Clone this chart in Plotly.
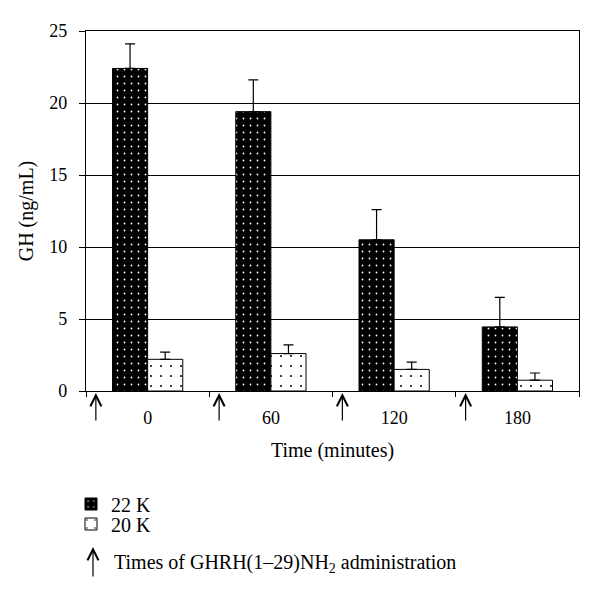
import plotly.graph_objects as go

# time points (minutes)
times = ['0', '60', '120', '180']

# GH (ng/mL), mean and top of error bar
gh_22k = [22.4, 19.4, 10.5, 4.45]
gh_22k_top = [24.1, 21.6, 12.6, 6.5]
gh_20k = [2.2, 2.6, 1.5, 0.75]
gh_20k_top = [2.7, 3.2, 2.0, 1.25]

# GHRH administration marked just after the start of each interval
admin_pos = [-0.42, 0.58, 1.58, 2.58]

serif = 'Liberation Serif'
PW, PH = 493, 360  # plot area size in px

fig = go.Figure()

fig.add_trace(go.Bar(
    x=times, y=gh_22k, name='22 K', legend='legend',
    marker=dict(color='black', line=dict(color='black', width=1),
                pattern=dict(shape='.', fgcolor='white', bgcolor='black',
                             size=7, solidity=0.05, fillmode='replace')),
    error_y=dict(type='data', symmetric=False,
                 array=[t - v for t, v in zip(gh_22k_top, gh_22k)],
                 arrayminus=[0] * 4, color='black', thickness=1.2, width=5),
))
fig.add_trace(go.Bar(
    x=times, y=gh_20k, name='20 K', legend='legend2',
    marker=dict(color='white', line=dict(color='black', width=1),
                pattern=dict(shape='.', fgcolor='black', bgcolor='white',
                             size=10, solidity=0.03, fillmode='replace')),
    error_y=dict(type='data', symmetric=False,
                 array=[t - v for t, v in zip(gh_20k_top, gh_20k)],
                 arrayminus=[0] * 4, color='black', thickness=1.2, width=5),
))

annotations = []
# arrows under the x axis
for p in admin_pos:
    annotations.append(dict(x=p, y=0, xref='x', yref='y', text='',
                            showarrow=True, arrowhead=5, arrowsize=1.8,
                            arrowwidth=1.2, arrowcolor='black',
                            ax=0, ay=31, standoff=2))
# legend row for the arrow
annotations.append(dict(x=7 / PW, y=-156 / PH, xref='paper', yref='paper',
                        text='', showarrow=True, arrowhead=5, arrowsize=1.8,
                        arrowwidth=1.2, arrowcolor='black', ax=0, ay=31))
annotations.append(dict(x=26 / PW, y=-172 / PH, xref='paper', yref='paper',
                        xanchor='left', yanchor='middle', showarrow=False,
                        text='Times of GHRH(1\u201329)NH<sub>2</sub> administration',
                        font=dict(family=serif, size=20, color='black')))

leg = dict(x=-15 / PW, xanchor='left', yanchor='middle',
           font=dict(family=serif, size=20, color='black'),
           itemclick=False, bgcolor='rgba(0,0,0,0)')

fig.update_layout(
    width=600, height=598,
    margin=dict(l=78, r=29, t=23, b=215),
    paper_bgcolor='white', plot_bgcolor='white',
    barmode='group', bargap=0.43, bargroupgap=0,
    font=dict(family=serif, size=18, color='black'),
    showlegend=True,
    legend=dict(leg, y=-113 / PH),
    legend2=dict(leg, y=-133 / PH),
    annotations=annotations,
)
fig.update_xaxes(
    type='category', tickson='boundaries', ticks='outside', ticklen=5,
    tickcolor='black', showline=True, linecolor='black', linewidth=1.2,
    mirror=True, showgrid=False, ticklabelstandoff=10,
    title=dict(text='Time (minutes)', font=dict(family=serif, size=20), standoff=16),
    tickfont=dict(family=serif, size=18),
)
fig.update_yaxes(
    range=[0, 25], dtick=5, ticks='outside', ticklen=6, tickcolor='black',
    showline=True, linecolor='black', linewidth=1.2, mirror=True,
    showgrid=True, gridcolor='black', gridwidth=1, zeroline=False,
    ticklabelstandoff=8,
    title=dict(text='GH (ng/mL)', font=dict(family=serif, size=20), standoff=10),
    tickfont=dict(family=serif, size=18),
)

fig.write_html('out.html')
